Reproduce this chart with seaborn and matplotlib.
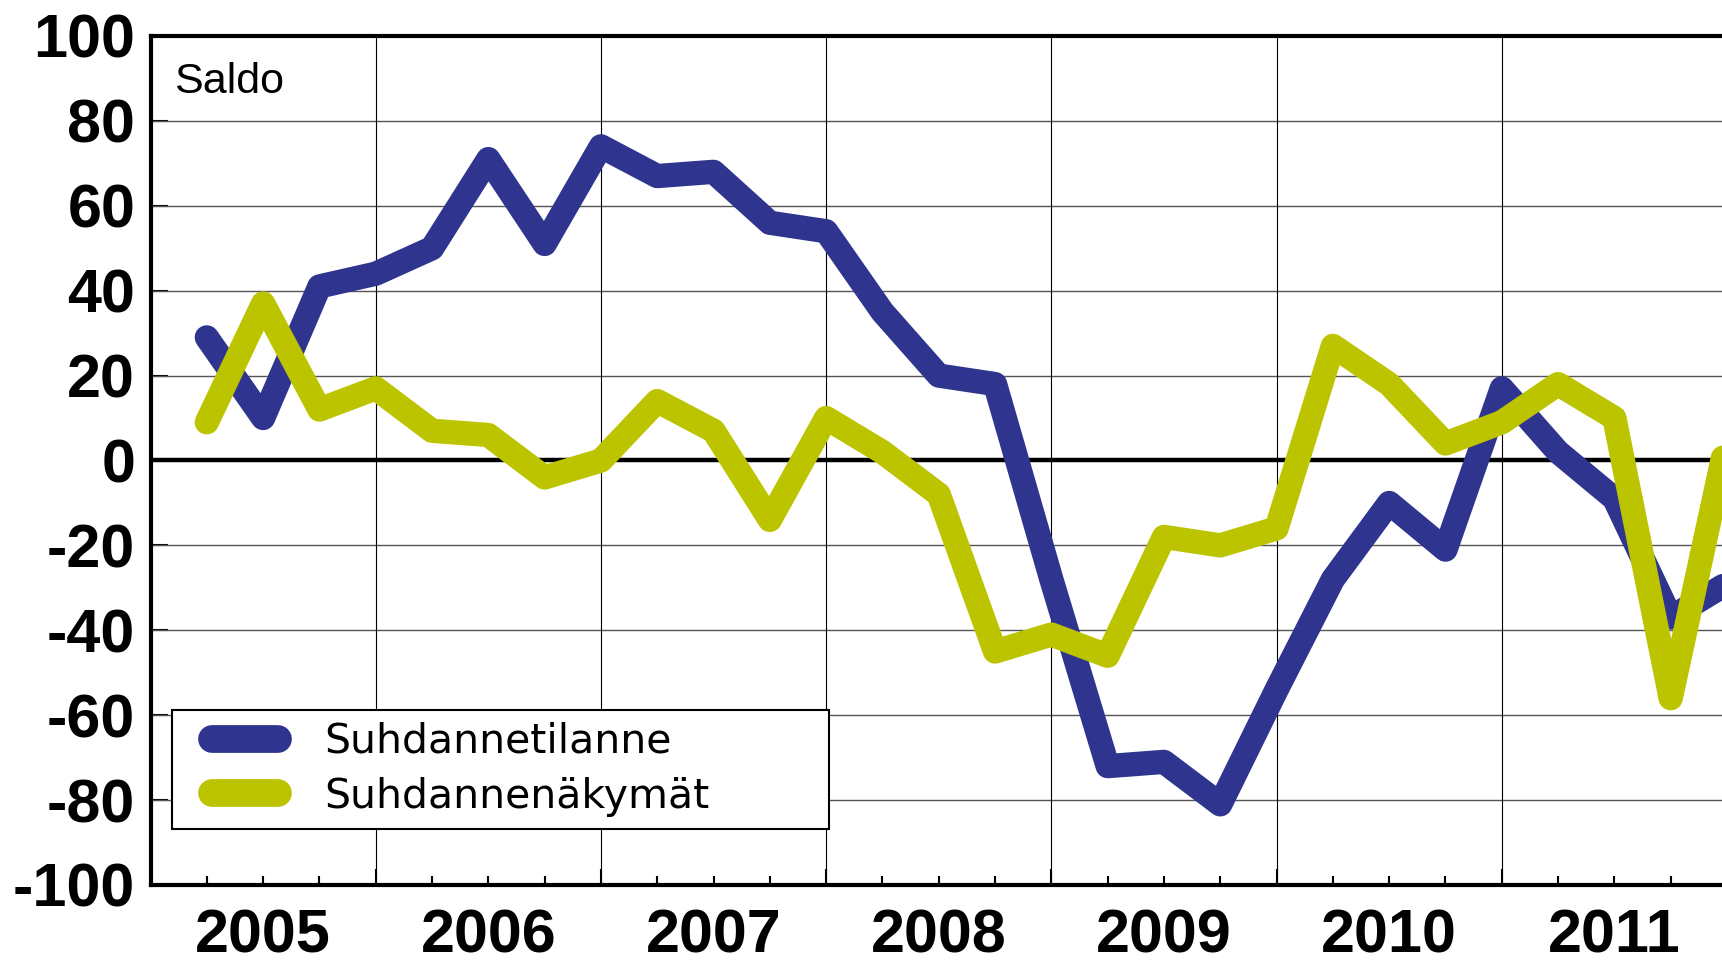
import numpy as np
import pandas as pd
import matplotlib
matplotlib.use("Agg")
import matplotlib.pyplot as plt
from matplotlib.lines import Line2D
from matplotlib.legend_handler import HandlerLine2D
import seaborn as sns

# quarterly balance figures, 2005Q1 .. 2011Q4
quarters = list(range(1, 29))
years = ["2005", "2006", "2007", "2008", "2009", "2010", "2011"]
tilanne = [29, 10, 41, 44, 50, 71, 51, 74, 67, 68, 56, 54, 35, 20, 18, -28,
           -72, -71, -81, -54, -28, -10, -21, 17, 2, -9, -37, -29]
nakymat = [9, 37, 12, 17, 7, 6, -4, 0, 14, 7, -14, 10, 2, -8, -45, -41,
           -46, -18, -20, -16, 27, 18, 4, 9, 18, 10, -56, 5]
names = ["Suhdannetilanne", "Suhdannenäkymät"]
colors = ["#2F358F", "#BCC400"]

df = pd.concat([
    pd.DataFrame({"q": quarters, "saldo": tilanne, "sarja": names[0]}),
    pd.DataFrame({"q": quarters, "saldo": nakymat, "sarja": names[1]}),
])

sns.set_style("white")
plt.rcParams["font.family"] = ["Liberation Sans", "DejaVu Sans"]
plt.rcParams["text.color"] = "black"
plt.rcParams["xtick.color"] = "black"
plt.rcParams["ytick.color"] = "black"

fig = plt.figure(figsize=(17.22, 9.67), dpi=100)
ax = fig.add_axes([0.0874, 0.0848, 0.9155, 0.878])

# grid
for v in range(-80, 101, 20):
    if v != 0:
        ax.axhline(v, color="#555555", lw=1.0, zorder=1)
for x in range(4, 28, 4):
    ax.axvline(x, color="black", lw=0.8, zorder=1)
ax.axhline(0, color="black", lw=3.2, zorder=2)

sns.lineplot(data=df, x="q", y="saldo", hue="sarja", palette=colors,
             lw=17.5, legend=False, sort=False, ax=ax, zorder=3)
for ln in ax.lines:
    if ln.get_linewidth() > 10:
        ln.set_solid_capstyle("round")
        ln.set_solid_joinstyle("round")

ax.set_xlim(0, 28)
ax.set_ylim(-100, 100)
ax.set_xlabel("")
ax.set_ylabel("")

ax.set_yticks(range(-100, 101, 20))
ax.set_yticklabels([str(v) for v in range(-100, 101, 20)],
                   fontsize=44, fontweight="bold", color="black")
ax.tick_params(axis="y", direction="in", length=12, width=1.5, pad=11,
               left=True)
ax.set_xticks(range(0, 29, 4))
ax.set_xticklabels([])
ax.set_xticks(quarters, minor=True)
ax.tick_params(axis="x", which="major", direction="in", length=11.5,
               width=1.5, bottom=True)
ax.tick_params(axis="x", which="minor", direction="in", length=6.5,
               width=1.5, bottom=True)

for i, y in enumerate(years):
    ax.text(2 + 4 * i, -0.08, y, transform=ax.get_xaxis_transform(),
            ha="center", va="baseline", fontsize=44, fontweight="bold",
            color="black")

for side in ["left", "bottom", "top"]:
    ax.spines[side].set_linewidth(3)
    ax.spines[side].set_color("black")
ax.spines["right"].set_visible(False)

ax.text(0.0147, 0.933, "Saldo", transform=ax.transAxes, fontsize=31,
        ha="left", va="baseline", color="black")

handles = [Line2D([0], [0], color=c, lw=20, solid_capstyle="round")
           for c in colors]
leg = ax.legend(handles, names, loc="lower left",
                bbox_to_anchor=(0.0137, 0.066, 0.417, 0.1437), mode="expand",
                borderaxespad=0, frameon=True, fancybox=False,
                edgecolor="black", framealpha=1, handlelength=2.96,
                handletextpad=0.46, borderpad=0.3, labelspacing=0.36,
                handler_map={Line2D: HandlerLine2D(numpoints=2,
                                                   marker_pad=0.68)},
                prop={"family": "DejaVu Sans", "size": 29.5})
leg.get_frame().set_linewidth(1.5)
for t in leg.get_texts():
    t.set_color("black")
leg.set_zorder(5)

fig.savefig("out.png", dpi=100)
